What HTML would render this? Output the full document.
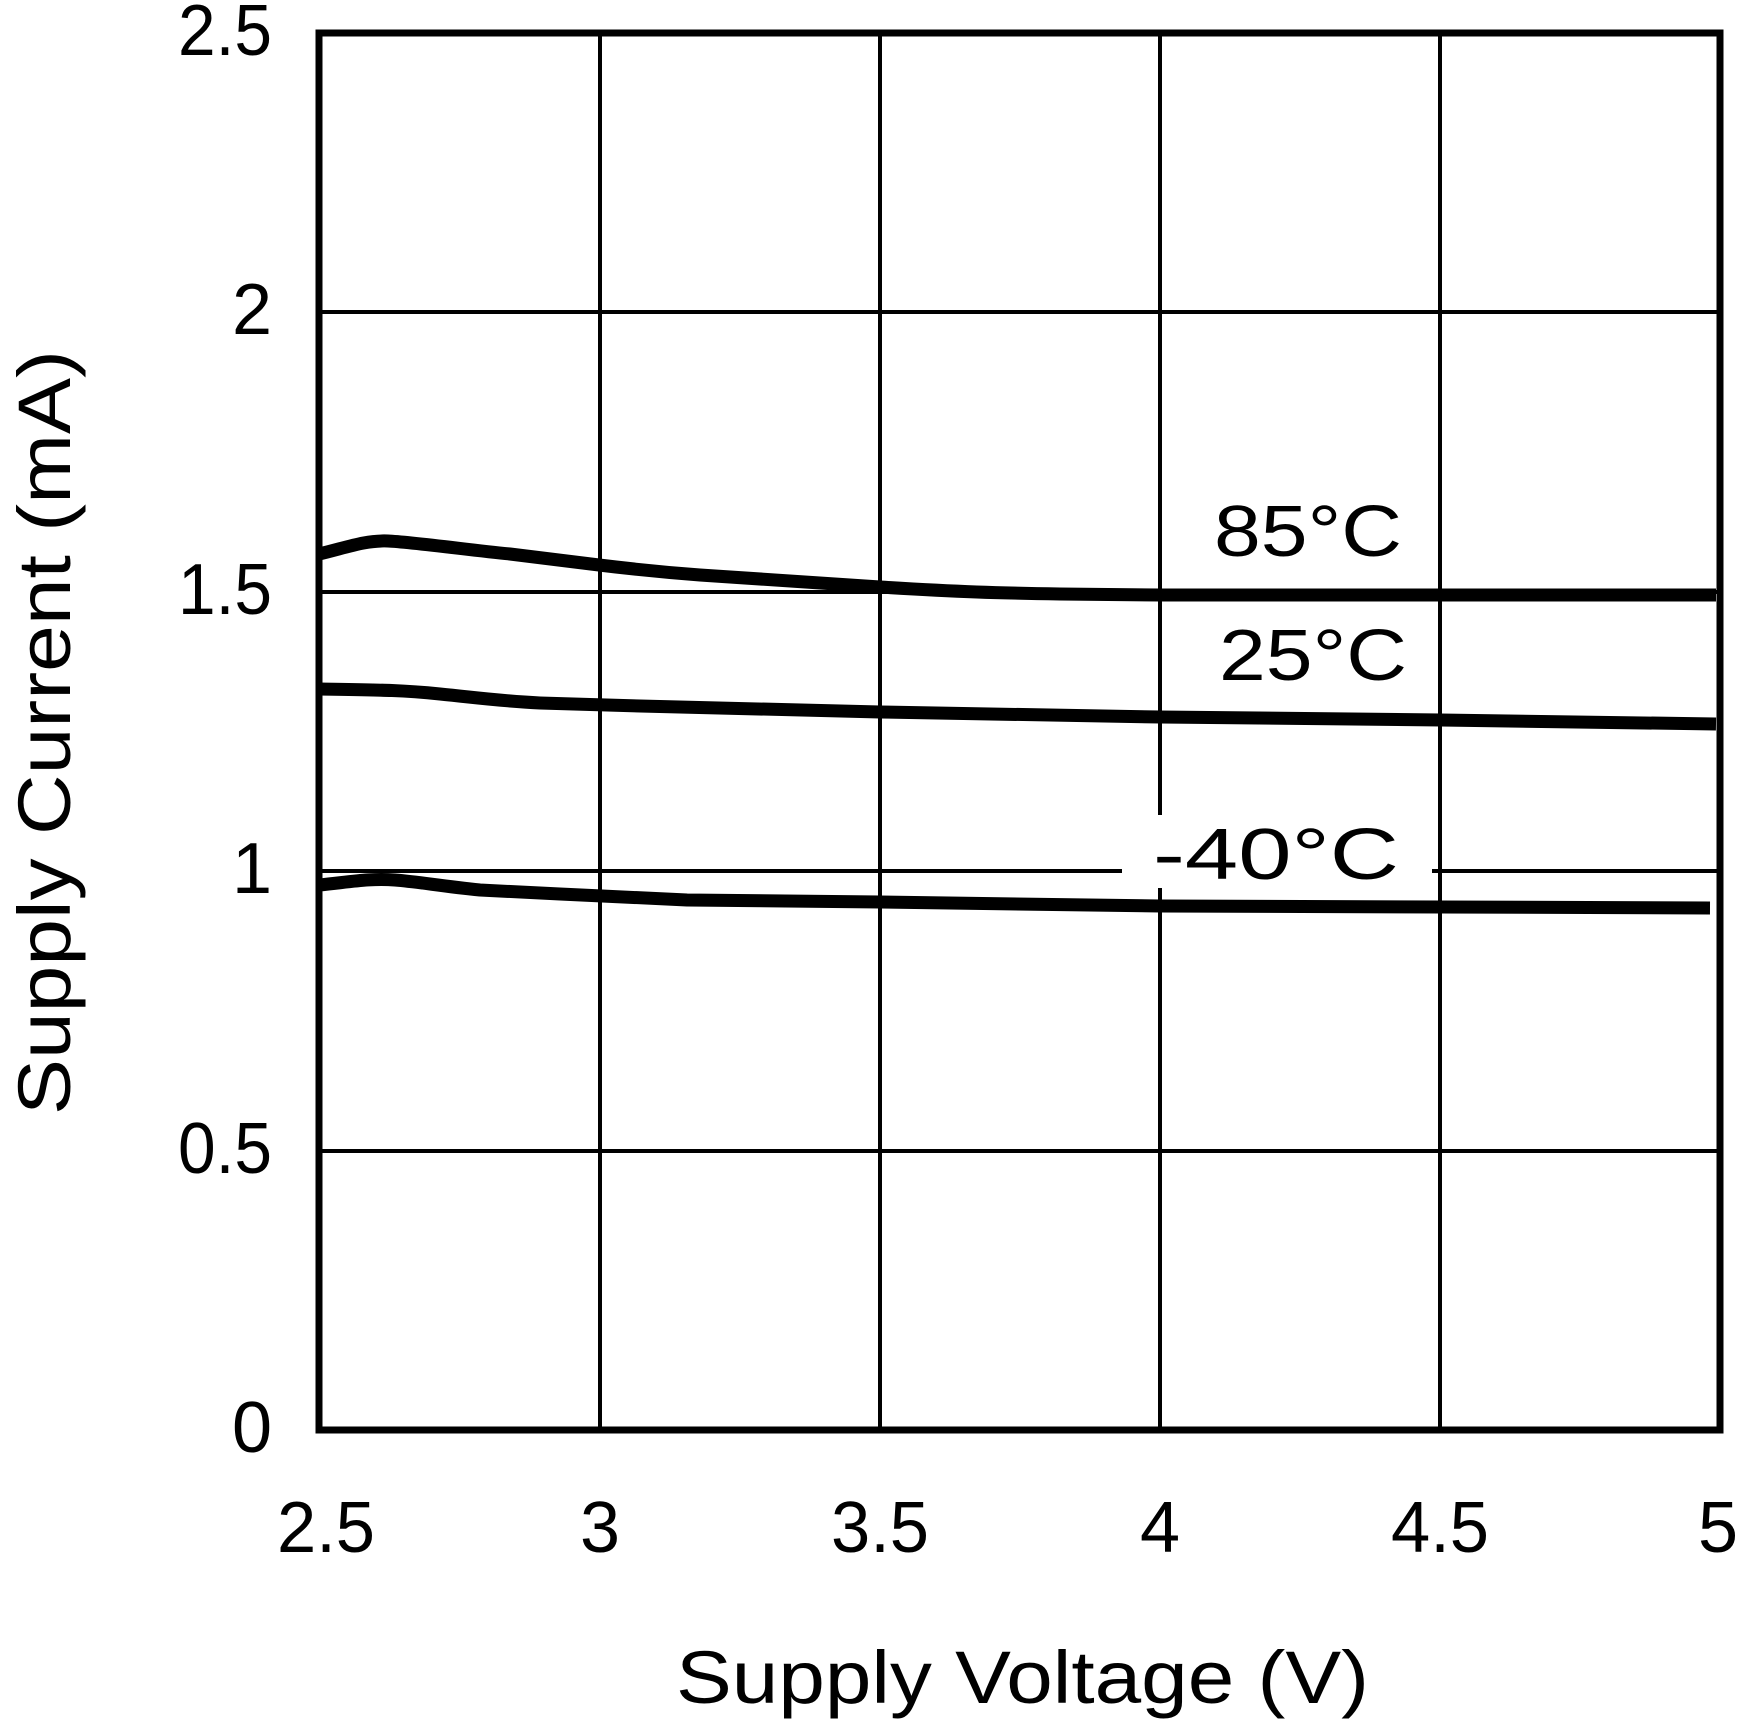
<!DOCTYPE html>
<html><head><style>html,body{margin:0;padding:0;background:#fff}svg{display:block}</style></head>
<body>
<svg width="1738" height="1725" viewBox="0 0 1738 1725" xmlns="http://www.w3.org/2000/svg" font-family="'Liberation Sans', sans-serif" fill="#000">
<g stroke="#000" stroke-width="4" fill="none">
<line x1="600" y1="33" x2="600" y2="1430"/>
<line x1="880" y1="33" x2="880" y2="1430"/>
<line x1="1160" y1="33" x2="1160" y2="815"/>
<line x1="1160" y1="888" x2="1160" y2="1430"/>
<line x1="1440" y1="33" x2="1440" y2="1430"/>
<line x1="319" y1="312" x2="1720" y2="312"/>
<line x1="319" y1="592" x2="1720" y2="592"/>
<line x1="319" y1="871" x2="1122" y2="871"/>
<line x1="1432" y1="871" x2="1720" y2="871"/>
<line x1="319" y1="1151" x2="1720" y2="1151"/>
</g>
<rect x="319" y="33" width="1401" height="1397" fill="none" stroke="#000" stroke-width="7"/>
<g stroke="#000" stroke-width="13" fill="none" stroke-linejoin="round">
<path d="M319,554 C345,548 365,540 388,541 S470,550 510,554 L599,565 C640,570 660,572 700,575 L880,587 C960,592 998,593 1060,594 L1160,595 L1716,595"/>
<path d="M319,689 C380,690 400,690 440,694 S500,701 540,703 L640,706 L880,712 L1160,717 L1441,720 L1716,724"/>
<path d="M319,885 C350,882 370,878 395,880 S440,886 480,890 L560,894 L687,900 L880,902 L1160,906 L1441,907 L1710,908"/>
</g>
<g font-size="72">
<text x="1214" y="556" textLength="188" lengthAdjust="spacingAndGlyphs">85°C</text>
<text x="1219" y="680" textLength="188" lengthAdjust="spacingAndGlyphs">25°C</text>
<text x="1153" y="879" textLength="246" lengthAdjust="spacingAndGlyphs">-40°C</text>
</g>
<g font-size="72" text-anchor="end">
<text x="272" y="55" textLength="94" lengthAdjust="spacingAndGlyphs">2.5</text>
<text x="272" y="334">2</text>
<text x="272" y="614" textLength="94" lengthAdjust="spacingAndGlyphs">1.5</text>
<text x="272" y="893">1</text>
<text x="272" y="1173" textLength="94" lengthAdjust="spacingAndGlyphs">0.5</text>
<text x="272" y="1452">0</text>
</g>
<g font-size="72" text-anchor="middle">
<text x="326" y="1552" textLength="98" lengthAdjust="spacingAndGlyphs">2.5</text>
<text x="600" y="1552">3</text>
<text x="880" y="1552" textLength="98" lengthAdjust="spacingAndGlyphs">3.5</text>
<text x="1160" y="1552">4</text>
<text x="1440" y="1552" textLength="98" lengthAdjust="spacingAndGlyphs">4.5</text>
<text x="1718" y="1552">5</text>
</g>
<text x="676" y="1703" font-size="74" textLength="693" lengthAdjust="spacingAndGlyphs">Supply Voltage (V)</text>
<text transform="translate(70,1115) rotate(-90)" font-size="74" textLength="765" lengthAdjust="spacingAndGlyphs">Supply Current (mA)</text>
</svg>
</body></html>
